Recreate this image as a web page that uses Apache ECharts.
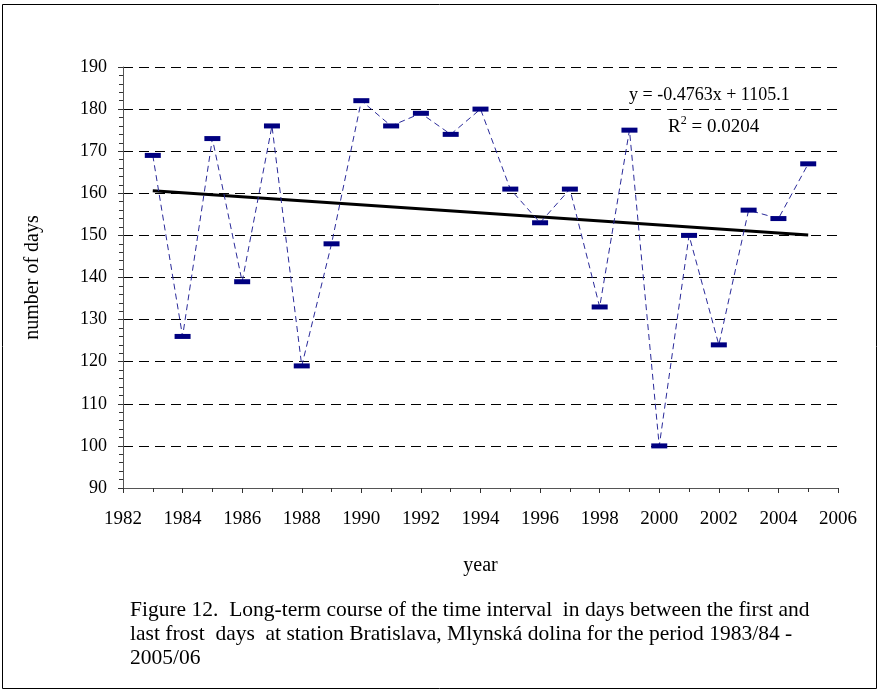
<!DOCTYPE html>
<html><head><meta charset="utf-8">
<script src="https://cdn.jsdelivr.net/npm/echarts@6/dist/echarts.min.js"></script>
<style>html,body{margin:0;padding:0;background:#fff}#c{width:879px;height:691px}</style>
</head><body><div id="c"></div>
<script>
const years = [1983,1984,1985,1986,1987,1988,1989,1990,1991,1992,1993,1994,1995,1996,1997,1998,1999,2000,2001,2002,2003,2004,2005];
const days = [169,126,173,139,176,119,148,182,176,179,174,180,161,153,161,133,175,100,150,124,156,154,167];
const trendSlope = -0.4763;
const trendIntercept = 1105.1;
const xTicks = [1982,1984,1986,1988,1990,1992,1994,1996,1998,2000,2002,2004,2006];
const yTicks = [90,100,110,120,130,140,150,160,170,180,190];
const captionLines = [
  'Figure 12.  Long-term course of the time interval  in days between the first and',
  'last frost  days  at station Bratislava, Mlynská dolina for the period 1983/84 -',
  '2005/06'
];

const font = '"Liberation Serif","Times New Roman",serif';
const chart = echarts.init(document.getElementById('c'));
const x0 = years[0], x1 = years[years.length-1];
const trend = [[x0, trendSlope*x0+trendIntercept],[x1, trendSlope*x1+trendIntercept]];

const captionGraphics = captionLines.map((t,i)=>({
  type:'text',left:130,top:599+i*24,
  style:{text:t,fontFamily:'Liberation Serif',fontSize:21.5,fill:'#000'}
}));

chart.setOption({
  animation:false,
  backgroundColor:'#fff',
  grid:{left:123,right:41,top:67,bottom:203},
  xAxis:{type:'value',min:xTicks[0],max:xTicks[xTicks.length-1],interval:2,
    axisLine:{lineStyle:{color:'#555',width:1}},
    axisTick:{show:true,length:5,inside:false,lineStyle:{color:'#333'}},
    minorTick:{show:true,splitNumber:2,length:4,lineStyle:{color:'#333'}},
    splitLine:{show:false},
    axisLabel:{color:'#000',fontFamily:font,fontSize:19,margin:22,formatter:v=>String(v)},
    name:'year',nameLocation:'middle',nameGap:68,nameTextStyle:{color:'#000',fontFamily:font,fontSize:20}},
  yAxis:{type:'value',min:yTicks[0],max:yTicks[yTicks.length-1],interval:10,
    axisLine:{show:true,lineStyle:{color:'#555',width:1}},
    axisTick:{show:true,length:5,lineStyle:{color:'#333'}},
    minorTick:{show:true,splitNumber:5,length:4,lineStyle:{color:'#333'}},
    splitLine:{show:true,lineStyle:{color:'#000',type:[10,6],width:1}},
    axisLabel:{color:'#000',fontFamily:font,fontSize:18,margin:16},
    name:'number of days',nameLocation:'middle',nameGap:80,nameTextStyle:{color:'#000',fontFamily:font,fontSize:20}},
  series:[
    {type:'line',data:years.map((y,i)=>[y,days[i]]),
      lineStyle:{color:'#2a2a9a',width:1,type:[6,4]},
      symbol:'rect',symbolSize:[16,5],itemStyle:{color:'#000080'},z:3},
    {type:'line',data:trend,symbol:'none',lineStyle:{color:'#000',width:3},z:2}
  ],
  graphic:[
    {type:'rect',shape:{x:2.5,y:4.5,width:874,height:684},style:{fill:null,stroke:'#000',lineWidth:1},silent:true},
    {type:'text',left:629,top:86,style:{text:'y = -0.4763x + 1105.1',fontFamily:'Liberation Serif',fontSize:18,fill:'#000'}},
    {type:'text',left:668,top:115,style:{text:'{a|R}{s|2}{a| = 0.0204}',rich:{a:{fontFamily:'Liberation Serif',fontSize:19,fill:'#000',verticalAlign:'bottom'},s:{fontFamily:'Liberation Serif',fontSize:12,fill:'#000',verticalAlign:'top',padding:[0,0,10,0]}}}}
  ].concat(captionGraphics)
});
</script></body></html>
